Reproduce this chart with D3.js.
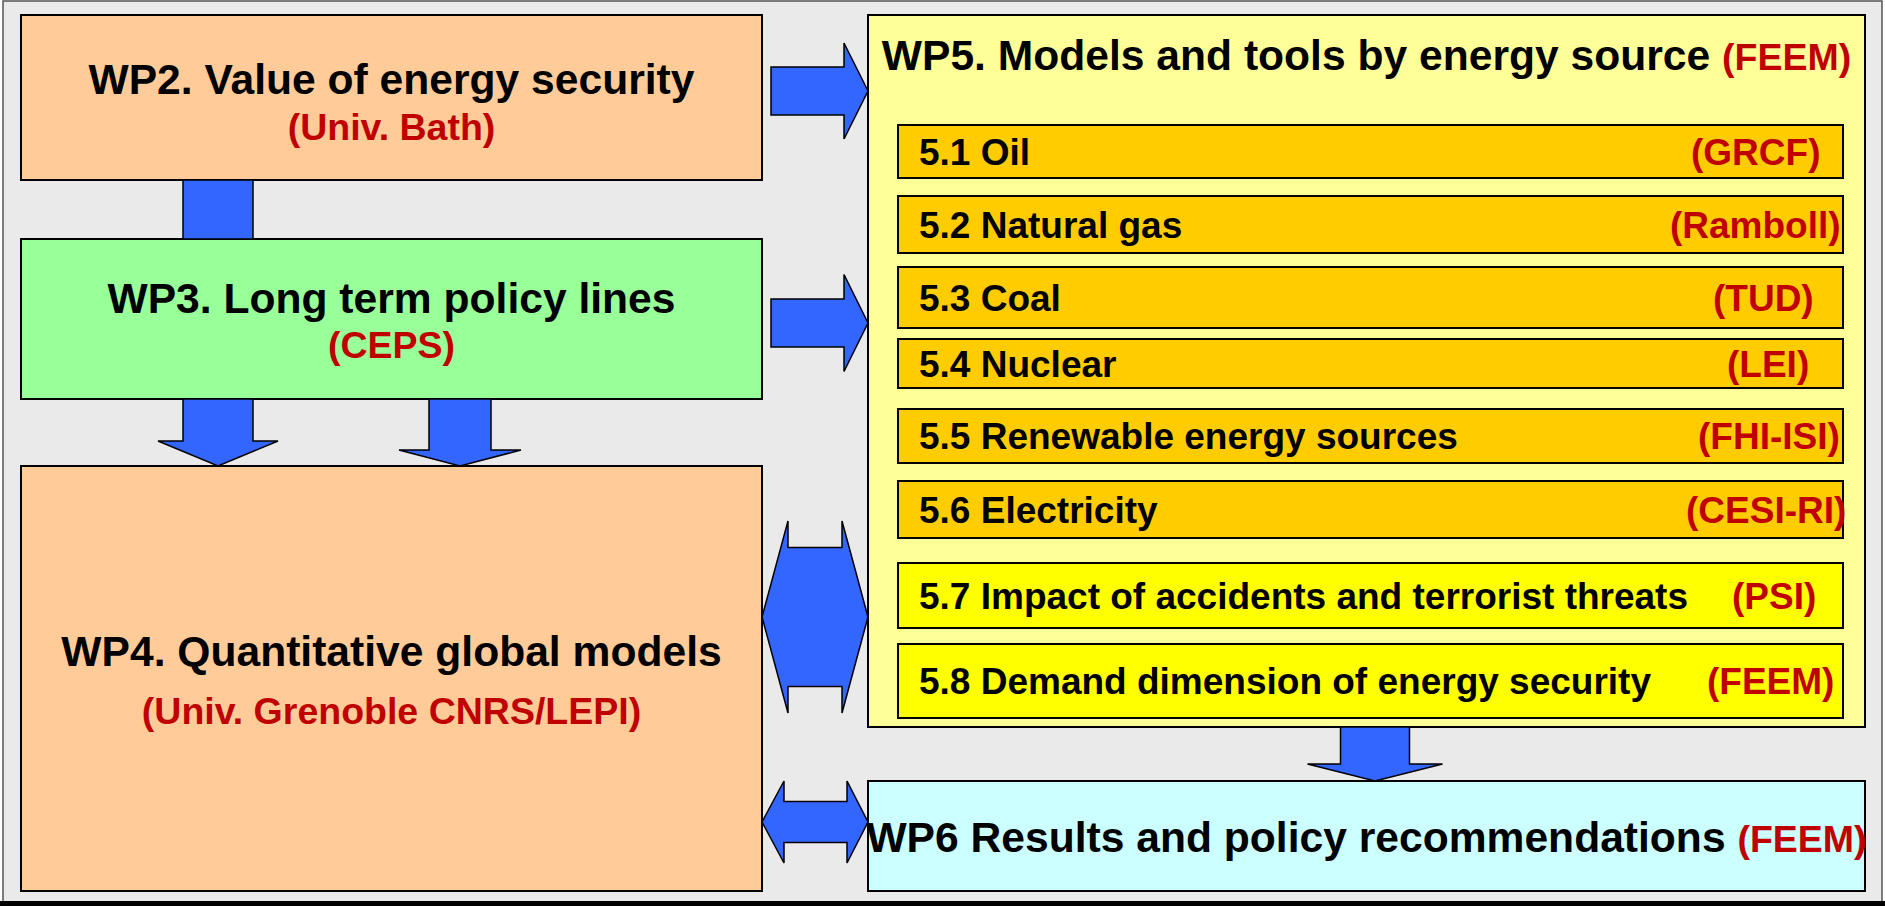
<!DOCTYPE html>
<html lang="en">
<head>
    <meta charset="UTF-8">
    <script src="https://d3js.org/d3.v7.min.js"></script>
    <style>
        body { margin: 0; background: #ffffff; }
        text { font-family: "Liberation Sans", Arial, sans-serif; font-weight: bold; }
    </style>
</head>
<body>
    <svg id="diagram" width="1885" height="906"></svg>

    <script>
        // work packages (title, lead partner)
        const wpIds = ["WP2", "WP3", "WP4", "WP5", "WP6"];
        const wpTitles = [
            "WP2. Value of energy security",
            "WP3. Long term policy lines",
            "WP4. Quantitative global models",
            "WP5. Models and tools by energy source",
            "WP6 Results and policy recommendations"
        ];
        const wpOrgs = ["(Univ. Bath)", "(CEPS)", "(Univ. Grenoble CNRS/LEPI)", "(FEEM)", "(FEEM)"];

        // WP5 sub tasks
        const taskNames = [
            "5.1 Oil", "5.2 Natural gas", "5.3 Coal", "5.4 Nuclear",
            "5.5 Renewable energy sources", "5.6 Electricity",
            "5.7 Impact of accidents and terrorist threats",
            "5.8 Demand dimension of energy security"
        ];
        const taskOrgs = ["(GRCF)", "(Ramboll)", "(TUD)", "(LEI)", "(FHI-ISI)", "(CESI-RI)", "(PSI)", "(FEEM)"];

        // links between work packages
        const links = [
            ["WP2", "WP3"], ["WP2", "WP5"], ["WP3", "WP5"],
            ["WP3", "WP4"], ["WP3", "WP4"],
            ["WP4", "WP5"], ["WP5", "WP6"], ["WP4", "WP6"]
        ];

        // ---- layout (pixels) ----
        const wpBox = {
            WP2: { x: 21, y: 15, w: 741, h: 165, fill: "#ffcc99" },
            WP3: { x: 21, y: 239, w: 741, h: 160, fill: "#99ff99" },
            WP4: { x: 21, y: 466, w: 741, h: 425, fill: "#ffcc99" },
            WP5: { x: 868, y: 15, w: 997, h: 712, fill: "#ffff99" },
            WP6: { x: 868, y: 781, w: 997, h: 110, fill: "#ccffff" }
        };
        // title baseline, org baseline, inline org?
        const wpText = {
            WP2: { t: 94, o: 140 },
            WP3: { t: 313, o: 358 },
            WP4: { t: 666, o: 724 },
            WP5: { t: 70, inline: true },
            WP6: { t: 852, inline: true }
        };
        const taskTop = [125, 196, 267, 339, 409, 481, 563, 644];
        const taskBottom = [178, 253, 328, 388, 463, 538, 628, 718];
        const taskOrgX = [1691, 1670, 1713, 1727, 1698, 1686, 1732, 1707];
        const taskX0 = 898, taskX1 = 1843;

        const svg = d3.select("#diagram");

        // background frame
        svg.append("rect")
            .attr("x", 3).attr("y", 1).attr("width", 1879).attr("height", 902)
            .attr("fill", "#eaeaea").attr("stroke", "#555").attr("stroke-width", 1.5);
        svg.append("rect")
            .attr("x", 0).attr("y", 901).attr("width", 1885).attr("height", 5)
            .attr("fill", "#000");

        // arrows as polygons
        function downArrow(cx, y0, y1, headY, sw, hw) {
            return [[cx - sw / 2, y0], [cx + sw / 2, y0], [cx + sw / 2, headY], [cx + hw / 2, headY],
                    [cx, y1], [cx - hw / 2, headY], [cx - sw / 2, headY]];
        }
        function rightArrow(cy, x0, x1, headX, sh, hh) {
            return [[x0, cy - sh / 2], [headX, cy - sh / 2], [headX, cy - hh / 2], [x1, cy],
                    [headX, cy + hh / 2], [headX, cy + sh / 2], [x0, cy + sh / 2]];
        }
        function doubleArrow(cy, x0, x1, hx0, hx1, sh, hh) {
            return [[x0, cy], [hx0, cy - hh / 2], [hx0, cy - sh / 2], [hx1, cy - sh / 2], [hx1, cy - hh / 2],
                    [x1, cy], [hx1, cy + hh / 2], [hx1, cy + sh / 2], [hx0, cy + sh / 2], [hx0, cy + hh / 2]];
        }
        const b = wpBox;
        const arrowShapes = [
            downArrow(218, b.WP2.y + b.WP2.h, b.WP3.y, b.WP3.y, 70, 70),                  // WP2 -> WP3 (bar)
            rightArrow(91, 771, b.WP5.x, 844, 48, 96),                                    // WP2 -> WP5
            rightArrow(323, 771, b.WP5.x, 844, 48, 97),                                   // WP3 -> WP5
            downArrow(218, b.WP3.y + b.WP3.h, b.WP4.y, 441, 70, 120),                     // WP3 -> WP4
            downArrow(460, b.WP3.y + b.WP3.h, b.WP4.y, 450, 62, 122),                     // WP3 -> WP4
            doubleArrow(617, 762, b.WP5.x, 788, 842, 139, 192),                            // WP4 <-> WP5
            downArrow(1375, b.WP5.y + b.WP5.h, b.WP6.y, 764, 69, 135),                    // WP5 -> WP6
            doubleArrow(822, 762, b.WP6.x, 784, 847, 41, 82)                               // WP4 <-> WP6
        ];
        const line = d3.line();

        // boxes
        svg.selectAll(".wp")
            .data(wpIds)
            .enter().append("rect")
            .attr("class", "wp")
            .attr("x", d => wpBox[d].x)
            .attr("y", d => wpBox[d].y)
            .attr("width", d => wpBox[d].w)
            .attr("height", d => wpBox[d].h)
            .attr("fill", d => wpBox[d].fill)
            .attr("stroke", "#000")
            .attr("stroke-width", 2);

        svg.selectAll(".arrow")
            .data(links)
            .enter().append("path")
            .attr("class", "arrow")
            .attr("d", (d, i) => line(arrowShapes[i]) + "Z")
            .attr("fill", "#3366ff")
            .attr("stroke", "#000")
            .attr("stroke-width", 1.5)
            .attr("stroke-linejoin", "miter");

        // WP texts
        wpIds.forEach((id, i) => {
            const box = wpBox[id];
            const cx = box.x + box.w / 2;
            const tx = wpText[id];
            const t = svg.append("text")
                .attr("x", cx).attr("y", tx.t)
                .attr("text-anchor", "middle")
                .attr("font-size", 42.6)
                .attr("fill", "#000");
            if (tx.inline) {
                t.append("tspan").text(wpTitles[i] + " ");
                t.append("tspan").attr("fill", "#c00000").attr("font-size", 37.5).text(wpOrgs[i]);
            } else {
                t.text(wpTitles[i]);
                svg.append("text")
                    .attr("x", cx).attr("y", tx.o)
                    .attr("text-anchor", "middle")
                    .attr("font-size", 37.5)
                    .attr("fill", "#c00000")
                    .text(wpOrgs[i]);
            }
        });

        // WP5 tasks
        const tasks = svg.selectAll(".task")
            .data(taskNames)
            .enter().append("g")
            .attr("class", "task");

        tasks.append("rect")
            .attr("x", taskX0)
            .attr("y", (d, i) => taskTop[i])
            .attr("width", taskX1 - taskX0)
            .attr("height", (d, i) => taskBottom[i] - taskTop[i])
            .attr("fill", (d, i) => i < 6 ? "#ffcc00" : "#ffff00")
            .attr("stroke", "#000")
            .attr("stroke-width", 2);

        tasks.append("text")
            .attr("x", 919)
            .attr("y", (d, i) => (taskTop[i] + taskBottom[i]) / 2 + 13)
            .attr("font-size", 37)
            .attr("fill", "#000")
            .text(d => d);

        tasks.append("text")
            .attr("x", (d, i) => taskOrgX[i])
            .attr("y", (d, i) => (taskTop[i] + taskBottom[i]) / 2 + 13)
            .attr("font-size", 37)
            .attr("fill", "#c00000")
            .text((d, i) => taskOrgs[i]);
    </script>
</body>
</html>
